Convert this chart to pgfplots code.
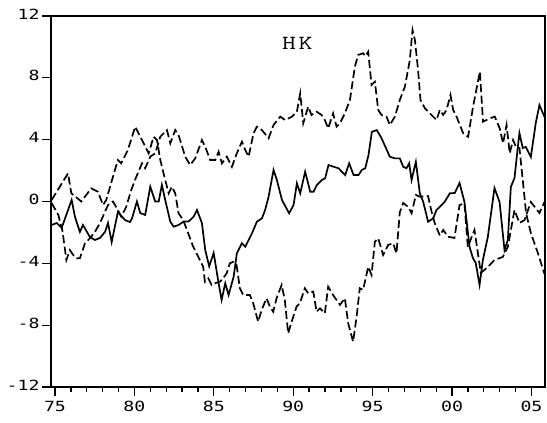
\documentclass[border=0pt]{standalone}
\usepackage{fontspec}
\usepackage{graphicx}
\usepackage{pgfplots}
\pgfplotsset{compat=1.18}
\newfontfamily\tickfont{DejaVu Sans Mono}[FakeStretch=1.3]

\begin{document}
\begin{tikzpicture}
\begin{axis}[
  scale only axis,
  width=494pt, height=371pt,
  xmin=1974.75, xmax=2005.85,
  ymin=-12, ymax=12,
  axis line style={line width=2pt},
  tick align=outside,
  tick pos=left,
  xtick={1975,1980,1985,1990,1995,2000,2005},
  xticklabels={75,80,85,90,95,00,05},
  minor x tick num=4,
  ytick={-12,-8,-4,0,4,8,12},
  yticklabels={-12,-8,-4,0,4,8,12},
  major tick length=9pt,
  minor tick length=5pt,
  every tick/.style={black, line width=1.3pt},
  ticklabel style={font=\fontsize{14}{16}\selectfont\tickfont},
  x tick label style={yshift=-2pt},
  y tick label style={xshift=1pt, yshift=2pt},
  no markers,
  clip=true,
]
% central estimate
\addplot[black, line width=1.7pt] coordinates {
(1974.79,-1.52) (1975.11,-1.39) (1975.42,-1.71) (1976.05,0.10) (1976.26,-1.00)
(1976.57,-1.97) (1976.76,-1.52) (1977.20,-2.30) (1977.52,-2.49) (1977.83,-2.36)
(1978.15,-1.97) (1978.34,-1.39) (1978.57,-2.62) (1978.96,-0.68) (1979.41,-1.20)
(1979.72,-1.33) (1979.85,-1.09) (1980.16,0.00) (1980.37,-0.75) (1980.68,-0.87)
(1981.00,0.96) (1981.31,0.00) (1981.53,0.00) (1981.73,1.07) (1981.94,0.10)
(1982.26,-1.30) (1982.47,-1.63) (1982.78,-1.52) (1983.10,-1.30) (1983.41,-1.30)
(1983.73,-0.98) (1983.94,-0.55) (1984.25,-1.39) (1984.46,-3.14) (1984.71,-4.20)
(1984.99,-3.33) (1985.30,-5.27) (1985.49,-6.37) (1985.72,-5.29) (1985.93,-6.05)
(1986.25,-4.86) (1986.45,-3.35) (1986.77,-2.70) (1986.98,-2.92) (1987.40,-2.06)
(1987.71,-1.31) (1988.03,-1.09) (1988.23,-0.55) (1988.45,0.31) (1988.76,2.04)
(1988.97,1.39) (1989.29,0.10) (1989.74,-0.76) (1990.02,-0.23) (1990.23,1.18)
(1990.44,0.53) (1990.75,1.93) (1991.07,0.63) (1991.28,0.63) (1991.49,1.07)
(1991.80,1.39) (1992.01,1.50) (1992.22,2.36) (1992.54,2.25) (1992.85,2.15)
(1993.27,1.71) (1993.52,2.47) (1993.80,1.71) (1994.11,1.71) (1994.32,2.04)
(1994.53,2.15) (1994.74,3.01) (1994.95,4.51) (1995.26,4.62) (1995.56,4.09)
(1996.08,2.90) (1996.40,2.79) (1996.71,2.79) (1996.92,2.25) (1997.13,2.15)
(1997.30,2.47) (1997.45,1.39) (1997.72,2.57) (1997.97,0.53) (1998.18,-0.01)
(1998.49,-1.31) (1998.81,-1.09) (1999.02,-0.55) (1999.34,-0.23) (1999.54,-0.01)
(1999.86,0.53) (2000.17,0.55) (2000.47,1.20) (2000.78,-0.03) (2001.10,-2.94)
(2001.31,-3.65) (2001.49,-3.98) (2001.73,-5.40) (2001.94,-3.78) (2002.25,-2.30)
(2002.67,0.87) (2002.99,-0.03) (2003.30,-3.14) (2003.51,-2.49) (2003.70,0.94)
(2003.93,1.52) (2004.14,3.53) (2004.24,4.43) (2004.45,3.46) (2004.64,3.53)
(2004.96,2.88) (2005.27,5.08) (2005.50,6.24) (2005.82,5.47)
};
% first dashed band
\addplot[black, line width=1.7pt, dash pattern=on 8pt off 3.5pt] coordinates {
(1974.79,0.10) (1975.82,1.82) (1976.03,0.53) (1976.66,0.00) (1977.28,0.85)
(1977.71,0.63) (1978.02,-0.23) (1978.23,0.10) (1978.65,1.60) (1978.96,2.68)
(1979.17,2.47) (1979.59,3.33) (1980.05,4.84) (1980.90,3.12) (1981.21,4.19)
(1981.42,3.98) (1981.63,2.68) (1981.94,1.39) (1982.16,0.53) (1982.36,0.96)
(1982.57,0.53) (1982.78,-0.76) (1983.07,-1.20) (1983.39,-2.06) (1983.70,-2.92)
(1984.02,-3.57) (1984.33,-4.22) (1984.44,-5.19) (1984.65,-4.97) (1984.86,-5.40)
(1985.07,-5.29) (1985.38,-5.19) (1985.59,-4.97) (1985.81,-4.64) (1986.01,-4.00)
(1986.22,-3.90) (1986.43,-4.10) (1986.64,-5.61) (1986.85,-6.05) (1987.27,-6.05)
(1987.48,-6.58) (1987.79,-7.78) (1988.01,-7.02) (1988.32,-6.26) (1988.53,-6.80)
(1988.74,-7.13) (1988.95,-6.26) (1989.27,-5.40) (1989.47,-6.37) (1989.68,-8.53)
(1989.90,-7.78) (1990.21,-6.80) (1990.42,-6.58) (1990.73,-5.61) (1990.94,-5.94)
(1991.26,-5.83) (1991.47,-7.13) (1991.68,-6.91) (1991.99,-7.23) (1992.20,-5.51)
(1992.51,-6.05) (1992.94,-6.69) (1993.25,-6.26) (1993.46,-7.88) (1993.77,-9.07)
(1993.99,-7.45) (1994.19,-5.61) (1994.40,-5.72) (1994.72,-4.22) (1994.93,-4.75)
(1995.14,-2.60) (1995.35,-2.38) (1995.66,-3.46) (1995.98,-2.81) (1996.29,-2.70)
(1996.50,-3.35) (1996.71,-0.70) (1996.92,-0.10) (1997.23,-0.34) (1997.45,-0.76)
(1997.72,0.42) (1997.97,0.31) (1998.49,0.35) (1998.71,-0.66) (1998.91,-1.41)
(1999.23,-2.20) (1999.44,-1.84) (1999.75,-2.28) (2000.15,-2.36) (2000.47,-0.23)
(2000.78,-0.12) (2000.99,-2.94) (2001.41,-1.84) (2001.81,-4.62) (2002.25,-4.24)
(2002.67,-3.78) (2003.19,-3.59) (2003.51,-2.94) (2003.93,-0.55) (2004.24,-1.39)
(2004.56,-1.20) (2004.96,-0.03) (2005.50,-0.74) (2005.82,-0.03)
};
% second dashed band
\addplot[black, line width=1.7pt, dash pattern=on 8pt off 3.5pt] coordinates {
(1974.79,-0.10) (1975.21,-0.87) (1975.47,-1.90) (1975.72,-3.78) (1975.94,-3.14)
(1976.15,-3.46) (1976.37,-3.67) (1976.57,-3.67) (1976.89,-2.70) (1977.20,-2.38)
(1977.52,-1.95) (1977.83,-1.41) (1978.15,-0.66) (1978.34,-0.23) (1978.65,0.00)
(1978.96,-0.55) (1979.17,-0.98) (1979.49,-0.34) (1979.80,0.74) (1980.12,1.60)
(1980.48,2.47) (1980.68,2.15) (1981.00,2.90) (1981.31,3.12) (1981.63,4.19)
(1982.05,4.62) (1982.26,3.76) (1982.57,4.62) (1982.78,4.30) (1983.20,2.90)
(1983.51,2.36) (1983.83,2.79) (1984.25,3.98) (1984.46,3.54) (1984.77,2.68)
(1985.09,2.68) (1985.30,3.22) (1985.51,2.47) (1985.82,2.90) (1986.14,2.25)
(1986.45,3.12) (1986.77,3.87) (1986.98,3.33) (1987.19,2.90) (1987.50,4.41)
(1987.71,4.84) (1988.03,4.62) (1988.45,4.09) (1988.76,4.95) (1989.18,5.49)
(1989.49,5.27) (1989.92,5.49) (1990.23,5.81) (1990.44,7.00) (1990.63,5.06)
(1990.94,6.13) (1991.15,5.60) (1991.47,5.81) (1991.78,5.60) (1991.99,5.27)
(1992.20,4.73) (1992.51,5.70) (1992.73,4.84) (1992.94,5.06) (1993.25,5.70)
(1993.57,6.57) (1993.88,8.72) (1994.09,9.48) (1994.40,9.59) (1994.54,9.40)
(1994.72,9.69) (1994.93,7.54) (1995.14,7.75) (1995.35,5.92) (1995.56,5.60)
(1995.87,5.49) (1996.08,4.95) (1996.40,5.49) (1996.71,6.57) (1997.03,7.43)
(1997.34,9.15) (1997.51,11.10) (1997.66,10.45) (1997.86,8.50) (1998.01,6.57)
(1998.29,6.03) (1998.60,5.70) (1999.02,5.27) (1999.23,5.92) (1999.44,5.60)
(1999.65,5.92) (1999.90,6.89) (2000.07,5.92) (2000.28,5.49) (2000.70,4.41)
(2001.01,4.19) (2001.32,6.13) (2001.75,8.40) (2001.95,5.16) (2002.38,5.38)
(2002.69,5.49) (2003.00,4.73) (2003.21,3.76) (2003.43,4.95) (2003.63,3.12)
(2003.84,3.98) (2004.06,3.44) (2004.24,3.46) (2004.45,1.39) (2004.66,-0.76)
(2004.96,-2.04) (2005.40,-3.33) (2005.82,-4.70)
};
\node at (axis cs:1990.26,10.25)
  {\scalebox{1.35}[1]{\fontsize{20}{22}\selectfont\ttfamily H\kern2pt K}};
\end{axis}
\pgfresetboundingbox
\path[use as bounding box] ([xshift=-51pt,yshift=-36pt]current axis.south west)
  rectangle ([xshift=2pt,yshift=16pt]current axis.north east);
\end{tikzpicture}
\end{document}
